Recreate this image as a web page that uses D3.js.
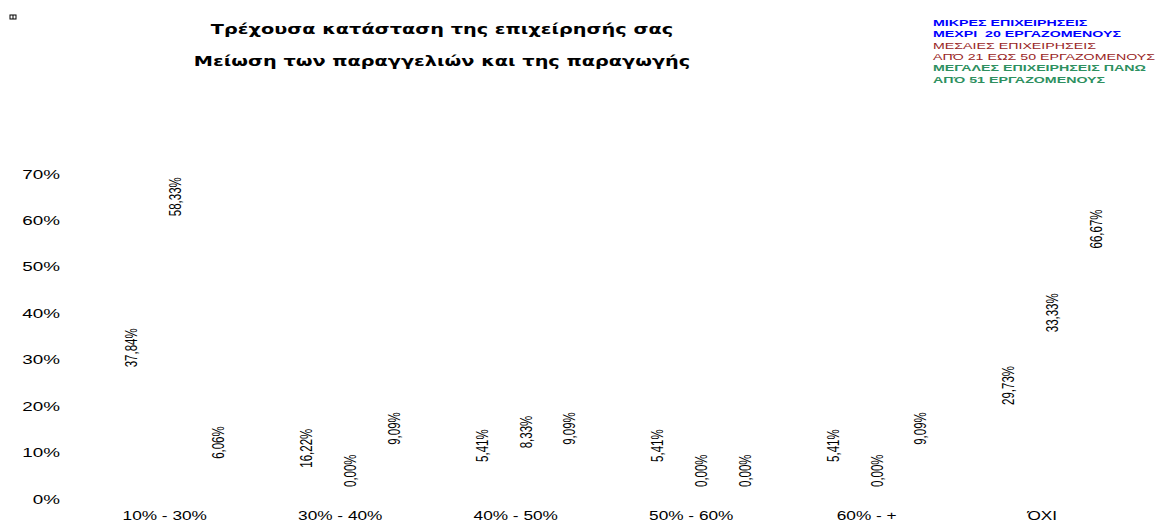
<!DOCTYPE html>
<meta charset="utf-8">
<script src="https://d3js.org/d3.v7.min.js"></script>
<style>
  body { margin: 0; background: #fff; }
  text { font-family: "Liberation Sans", Arial, sans-serif; }
</style>
<div id="chart"></div>
<script>
  // data
  const categories = ["10% - 30%", "30% - 40%", "40% - 50%", "50% - 60%", "60% - +", "ΌΧΙ"];
  const seriesNames = ["small", "medium", "large"];
  const smallValues = [0.3784, 0.1622, 0.0541, 0.0541, 0.0541, 0.2973];
  const mediumValues = [0.5833, 0.0000, 0.0833, 0.0000, 0.0000, 0.3333];
  const largeValues = [0.0606, 0.0909, 0.0909, 0.0000, 0.0909, 0.6667];
  const yTicks = [0, 0.1, 0.2, 0.3, 0.4, 0.5, 0.6, 0.7];
  const titleLines = ["Τρέχουσα κατάσταση της επιχείρησής σας", "Μείωση των παραγγελιών και της παραγωγής"];
  const legendLines = [
    { text: "ΜΙΚΡΕΣ ΕΠΙΧΕΙΡΗΣΕΙΣ", s: 0 },
    { text: "ΜΕΧΡΙ  20 ΕΡΓΑΖΟΜΕΝΟΥΣ", s: 0 },
    { text: "ΜΕΣΑΙΕΣ ΕΠΙΧΕΙΡΗΣΕΙΣ", s: 1 },
    { text: "ΑΠΌ 21 ΕΩΣ 50 ΕΡΓΑΖΟΜΕΝΟΥΣ", s: 1 },
    { text: "ΜΕΓΑΛΕΣ ΕΠΙΧΕΙΡΗΣΕΙΣ ΠΑΝΩ", s: 2 },
    { text: "ΑΠΌ 51 ΕΡΓΑΖΟΜΕΝΟΥΣ", s: 2 }
  ];

  const width = 1162, height = 523;
  const stretchX = 1.45; // the picture is drawn wide

  const seriesValues = [smallValues, mediumValues, largeValues];
  const colors = ["#0000ff", "#992525", "#2e9060"];
  const weights = ["bold", "normal", "bold"];

  const svg = d3.select("#chart").append("svg")
    .attr("width", width)
    .attr("height", height);

  // widen text horizontally by a factor
  function stretch(sel, k) {
    sel.each(function () {
      const L = this.getComputedTextLength();
      this.setAttribute("textLength", L * k);
      this.setAttribute("lengthAdjust", "spacingAndGlyphs");
    });
  }

  const x0 = d3.scaleBand().domain(categories).range([77, 1130]);
  const x1 = d3.scaleBand().domain(seriesNames).range([-50, 70]).paddingInner(0.25);
  const y = d3.scaleLinear().domain([0, 0.7]).range([499, 174]);

  const fmt = v => d3.format(".2f")(v * 100).replace(".", ",") + "%";

  // tiny icon top left
  svg.append("rect").attr("x", 10).attr("y", 15).attr("width", 6).attr("height", 4)
    .attr("fill", "none").attr("stroke", "#000").attr("stroke-width", 1);
  svg.append("line").attr("x1", 13).attr("x2", 13).attr("y1", 15).attr("y2", 19)
    .attr("stroke", "#000");

  // titles
  svg.selectAll(".title")
    .data(titleLines)
    .join("text")
    .attr("class", "title")
    .attr("x", 442)
    .attr("y", (d, i) => 34 + i * 32)
    .attr("text-anchor", "middle")
    .style("font-family", "'DejaVu Sans', Verdana, sans-serif")
    .style("font-weight", "bold")
    .style("font-size", "13.3px")
    .text(d => d)
    .call(stretch, stretchX);

  // legend text
  svg.selectAll(".legend")
    .data(legendLines)
    .join("text")
    .attr("class", "legend")
    .attr("x", 933)
    .attr("y", (d, i) => 26 + i * 11.3)
    .attr("fill", d => colors[d.s])
    .style("font-weight", d => weights[d.s])
    .style("font-size", "9.8px")
    .style("white-space", "pre")
    .text(d => d.text)
    .call(stretch, stretchX);

  // y axis labels
  svg.selectAll(".ytick")
    .data(yTicks)
    .join("text")
    .attr("class", "ytick")
    .attr("x", 60)
    .attr("y", d => y(d))
    .attr("dy", "0.35em")
    .attr("text-anchor", "end")
    .style("font-size", "13px")
    .text(d => d3.format(".0%")(d))
    .call(stretch, stretchX);

  // category labels
  svg.selectAll(".xtick")
    .data(categories)
    .join("text")
    .attr("class", "xtick")
    .attr("x", d => x0(d) + x0.bandwidth() / 2)
    .attr("y", 520)
    .attr("text-anchor", "middle")
    .style("font-size", "12.5px")
    .text(d => d)
    .call(stretch, 1.38);

  const points = [];
  seriesValues.forEach((vals, s) => {
    vals.forEach((v, i) => points.push({ s, cat: categories[i], v }));
  });
  const cx = d => x0(d.cat) + x0.bandwidth() / 2 + x1(seriesNames[d.s]) + x1.bandwidth() / 2;

  // bars (white, like the original)
  svg.selectAll(".bar")
    .data(points)
    .join("rect")
    .attr("class", "bar")
    .attr("x", d => cx(d) - x1.bandwidth() / 2)
    .attr("width", x1.bandwidth())
    .attr("y", d => y(d.v))
    .attr("height", d => y(0) - y(d.v))
    .attr("fill", "#fff");

  // value labels, rotated
  const labels = svg.selectAll(".lbl")
    .data(points)
    .join("text")
    .attr("class", "lbl")
    .attr("dy", "0.35em")
    .style("font-size", "11.5px")
    .text(d => fmt(d.v));

  labels.each(function (d) {
    const L = this.getComputedTextLength();
    const top = y(d.v);
    let pos, anchor;
    if (d.s === 0 && (y(0) - top) > L + 6) {
      pos = top + 5; anchor = "end";            // inside end
    } else if (top - 12 - L < y(0.7)) {
      pos = top + 20; anchor = "end";           // no room above
    } else {
      pos = top - 12; anchor = "start";         // outside end
    }
    d3.select(this)
      .attr("text-anchor", anchor)
      .attr("transform", `translate(${cx(d)},${pos}) scale(${stretchX},1) rotate(-90)`);
  });
</script>
